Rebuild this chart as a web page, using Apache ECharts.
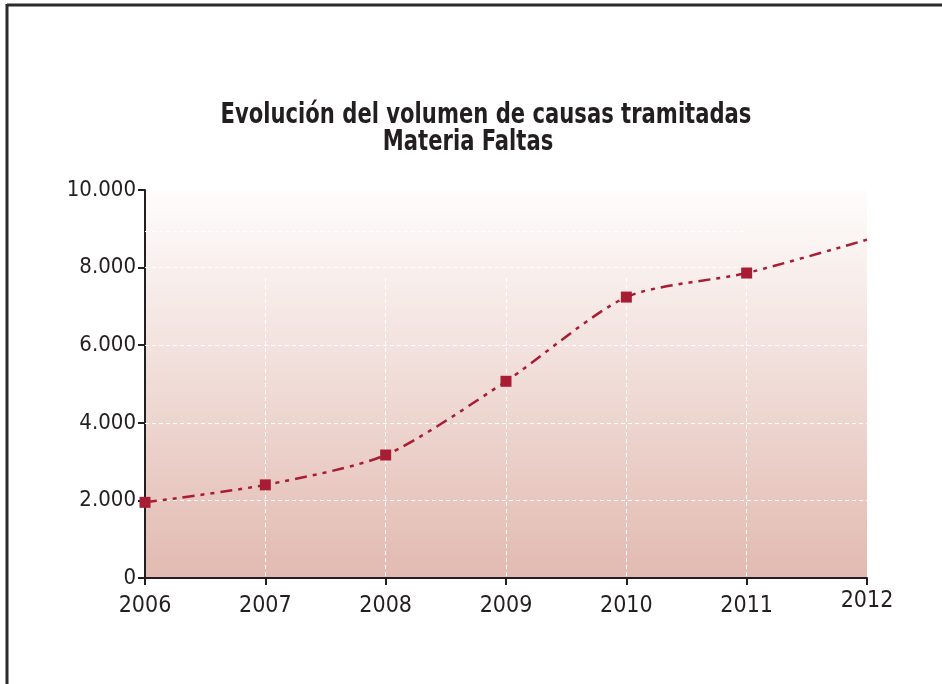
<!DOCTYPE html>
<html>
<head>
<meta charset="utf-8">
<script src="https://cdn.jsdelivr.net/npm/echarts@6/dist/echarts.min.js"></script>
<style>
  html, body { margin: 0; padding: 0; background: #fff; }
  #chart { width: 942px; height: 684px; }
</style>
</head>
<body>
<div id="chart"></div>
<script>
  // datos
  const years = ['2006', '2007', '2008', '2009', '2010', '2011', '2012']
  const causas = [1950, 2400, 3170, 5070, 7240, 7860, 8720]
  const yTicks = [0, 2000, 4000, 6000, 8000, 10000]

  // líneas de fondo como en el original (las de arriba son más cortas)
  const hGridFull = [2000, 4000, 6000]
  const hGridShort = [8000, 8940]
  const vGridTop = 7730

  const fontFam = "'DejaVu Sans Condensed', sans-serif"
  const red = '#a81c34'
  const dark = '#231f20'
  const gridLine = { color: '#ffffff', type: [4, 3], width: 1 }

  const chart = echarts.init(document.getElementById('chart'))

  const markLines = []
  hGridFull.forEach(v => markLines.push({ yAxis: v }))
  hGridShort.forEach(v => markLines.push([{ coord: [years[0], v] }, { coord: [years[years.length - 2], v] }]))
  years.slice(1, -1).forEach(y => markLines.push([{ coord: [y, vGridTop] }, { coord: [y, 0] }]))

  chart.setOption({
    animation: false,
    graphic: [
      { type: 'line', shape: { x1: 7, y1: 5, x2: 942, y2: 5 }, style: { stroke: '#2b2b2b', lineWidth: 3 } },
      { type: 'line', shape: { x1: 7, y1: 4, x2: 7, y2: 684 }, style: { stroke: '#2b2b2b', lineWidth: 3 } },
      {
        type: 'text', x: 486, y: 101, scaleX: 0.81,
        style: { text: 'Evolución del volumen de causas tramitadas', textAlign: 'center', fill: dark,
                 font: 'bold 29px ' + fontFam }
      },
      {
        type: 'text', x: 468, y: 128, scaleX: 0.81,
        style: { text: 'Materia Faltas', textAlign: 'center', fill: dark,
                 font: 'bold 29px ' + fontFam }
      }
    ],
    grid: {
      left: 145,
      right: 75,
      top: 190,
      bottom: 106,
      show: true,
      borderWidth: 0,
      backgroundColor: new echarts.graphic.LinearGradient(0, 0, 0, 1, [
        { offset: 0, color: '#fefdfc' },
        { offset: 1, color: '#e2bab1' }
      ])
    },
    xAxis: {
      type: 'category',
      boundaryGap: false,
      data: years.map((y, i) => i === years.length - 1 ? { value: y, textStyle: { lineHeight: 12 } } : y),
      axisLine: { lineStyle: { color: dark, width: 2 } },
      axisTick: { show: true, length: 7, lineStyle: { color: dark, width: 2 } },
      axisLabel: {
        color: dark,
        fontFamily: fontFam,
        fontSize: 23,
        margin: 17
      },
      splitLine: { show: false }
    },
    yAxis: {
      type: 'value',
      min: yTicks[0],
      max: yTicks[yTicks.length - 1],
      interval: 2000,
      axisLine: { show: true, lineStyle: { color: dark, width: 2 } },
      axisTick: { show: true, length: 7, lineStyle: { color: dark, width: 2 } },
      axisLabel: {
        color: dark,
        fontFamily: fontFam,
        fontSize: 22,
        margin: 9,
        formatter: v => v === 0 ? '0' : v.toLocaleString('de-DE')
      },
      splitLine: { show: false }
    },
    series: [
      {
        type: 'line',
        data: causas.map((v, i) => i === causas.length - 1 ? { value: v, symbol: 'none' } : v),
        smooth: 0.25,
        symbol: 'rect',
        symbolSize: 11,
        z: 3,
        itemStyle: { color: red },
        lineStyle: { color: red, width: 2.5, type: [12, 6, 4, 6, 4, 6] },
        markLine: {
          silent: true,
          symbol: 'none',
          label: { show: false },
          lineStyle: gridLine,
          z: 1,
          data: markLines
        }
      }
    ]
  })
</script>
</body>
</html>
